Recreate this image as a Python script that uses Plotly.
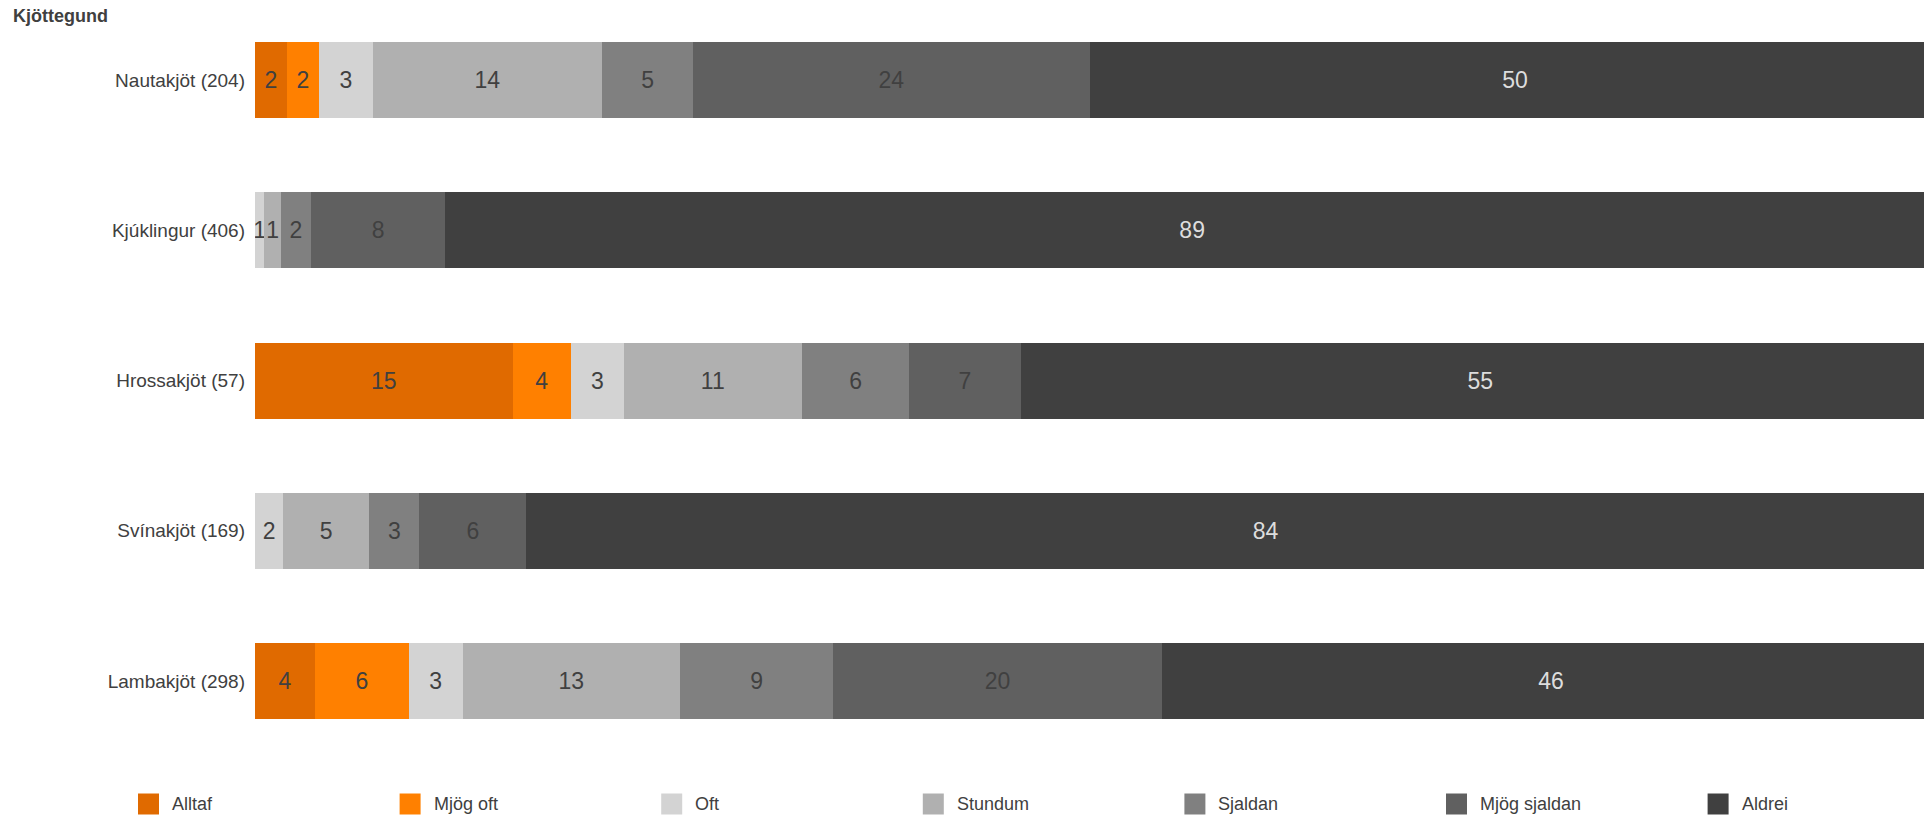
import plotly.graph_objects as go

# Categories (top to bottom) and answer options
kjottegund = ["Nautakjöt (204)", "Kjúklingur (406)", "Hrossakjöt (57)",
              "Svínakjöt (169)", "Lambakjöt (298)"]
svor = ["Alltaf", "Mjög oft", "Oft", "Stundum", "Sjaldan", "Mjög sjaldan", "Aldrei"]

# Shares in % (the "Aldrei" bars run past the right edge)
alltaf = [1.91, None, 15.44, None, 3.60]
mjog_oft = [1.91, None, 3.48, None, 5.60]
oft = [3.24, 0.55, 3.18, 1.69, 3.24]
stundum = [13.73, 1.00, 10.66, 5.15, 13.02]
sjaldan = [5.47, 1.80, 6.45, 3.01, 9.18]
mjog_sjaldan = [23.74, 8.05, 6.66, 6.40, 19.71]
aldrei = [51.0, 89.5, 55.1, 88.6, 46.6]

# Labels printed in the bars
alltaf_txt = ["2", "", "15", "", "4"]
mjog_oft_txt = ["2", "", "4", "", "6"]
oft_txt = ["3", "1", "3", "2", "3"]
stundum_txt = ["14", "1", "11", "5", "13"]
sjaldan_txt = ["5", "2", "6", "3", "9"]
mjog_sjaldan_txt = ["24", "8", "7", "6", "20"]
aldrei_txt = ["50", "89", "55", "84", "46"]

series = [alltaf, mjog_oft, oft, stundum, sjaldan, mjog_sjaldan, aldrei]
texts = [alltaf_txt, mjog_oft_txt, oft_txt, stundum_txt, sjaldan_txt,
         mjog_sjaldan_txt, aldrei_txt]
litir = ["#E06A00", "#FF8000", "#D3D3D3", "#B0B0B0", "#808080", "#606060", "#404040"]
textalitir = ["#404040"] * 6 + ["#DDDDDD"]

FONT = "Liberation Sans, Arial, sans-serif"
W, H = 1924, 816
ML, MR, MT, MB = 255, 0, 5, 60

fig = go.Figure()
for name, vals, txt, col, tcol in zip(svor, series, texts, litir, textalitir):
    fig.add_trace(go.Bar(
        y=kjottegund, x=vals, name=name, orientation="h",
        marker=dict(color=col, line=dict(width=0)),
        text=txt, textposition="inside", insidetextanchor="middle",
        textangle=0, textfont=dict(family=FONT, size=23, color=tcol),
        showlegend=False, hoverinfo="skip",
    ))

# px -> paper helpers for the hand-drawn legend
def px_x(p):
    return (p - ML) / (W - ML - MR)

def px_y(p):
    return (H - MB - p) / (H - MT - MB)

shapes = []
annotations = []
leg_x0, leg_step, leg_y, sq = 138, 261.6, 804, 21
for i, (name, col) in enumerate(zip(svor, litir)):
    x0 = leg_x0 + i * leg_step
    shapes.append(dict(type="rect", xref="paper", yref="paper",
                       x0=px_x(x0), x1=px_x(x0 + sq),
                       y0=px_y(leg_y + sq / 2), y1=px_y(leg_y - sq / 2),
                       fillcolor=col, line=dict(width=0)))
    annotations.append(dict(xref="paper", yref="paper", x=px_x(x0 + sq + 11),
                            y=px_y(leg_y), xanchor="left", yanchor="middle",
                            text=name, showarrow=False,
                            font=dict(family=FONT, size=18, color="#404040")))

fig.update_layout(
    width=W, height=H,
    barmode="stack", bargap=0.494,
    plot_bgcolor="white", paper_bgcolor="white",
    margin=dict(l=ML, r=MR, t=MT, b=MB),
    title=dict(text="<b>Kjöttegund</b>", xref="container", yref="container",
               x=13 / W, xanchor="left", y=1 - 15.5 / H, yanchor="middle",
               font=dict(family=FONT, size=18, color="#404040")),
    xaxis=dict(range=[0, 100], showgrid=False, zeroline=False,
               showticklabels=False, showline=False, fixedrange=True),
    yaxis=dict(autorange="reversed", showgrid=False, zeroline=False,
               showline=False, ticks="", ticklabelstandoff=9,
               tickfont=dict(family=FONT, size=19, color="#404040")),
    uniformtext=dict(minsize=23, mode="show"),
    shapes=shapes, annotations=annotations,
)

fig.write_html("out.html", config={"displayModeBar": False},
               post_script="document.body.style.margin='0';document.body.style.overflow='hidden';")
